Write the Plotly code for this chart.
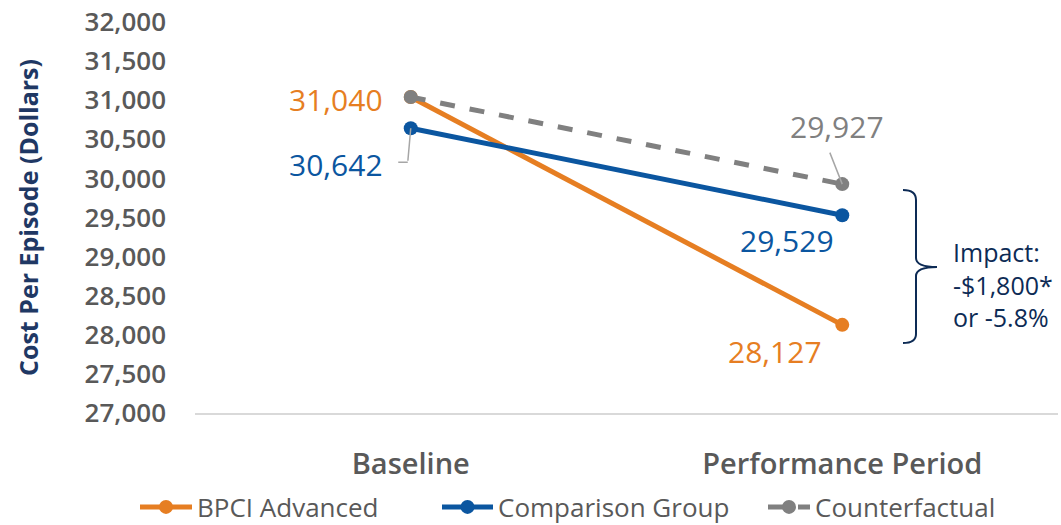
import plotly.graph_objects as go

# Episode cost data
periods = ["Baseline", "Performance Period"]
bpci_advanced = [31040, 28127]
comparison_group = [30642, 29529]
counterfactual = [31040, 29927]
y_ticks = list(range(27000, 32001, 500))

ORANGE = "#E67E22"
BLUE = "#0B56A0"
GRAY = "#808080"
NAVY = "#0D2B55"
TEXT = "#595959"
FONT = "Open Sans"

L, R, T, B = 195, 3, 22, 112
W, H = 1061, 525
PW = W - L - R


def px(xp):
    return (xp - L) / PW


fig = go.Figure()
fig.add_trace(go.Scatter(x=periods, y=bpci_advanced, name="BPCI Advanced",
                         mode="lines+markers", legend="legend",
                         line=dict(color=ORANGE, width=5),
                         marker=dict(size=14, color=ORANGE)))
fig.add_trace(go.Scatter(x=periods, y=comparison_group, name="Comparison Group",
                         mode="lines+markers", legend="legend2",
                         line=dict(color=BLUE, width=5),
                         marker=dict(size=14, color=BLUE)))
fig.add_trace(go.Scatter(x=periods, y=counterfactual, name="Counterfactual",
                         mode="lines+markers", legend="legend3",
                         line=dict(color=GRAY, width=5, dash="dash"),
                         marker=dict(size=14, color=GRAY)))

# Value labels
lab_font = dict(family=FONT, size=30)
fig.add_annotation(x=periods[0], y=bpci_advanced[0], text=f"{bpci_advanced[0]:,}",
                   showarrow=False, xshift=-75, yshift=-2,
                   font=dict(lab_font, color=ORANGE))
fig.add_annotation(x=periods[0], y=comparison_group[0], text=f"{comparison_group[0]:,}",
                   showarrow=False, xshift=-75, yshift=-36,
                   font=dict(lab_font, color=BLUE))
fig.add_annotation(x=periods[1], y=counterfactual[1], text=f"{counterfactual[1]:,}",
                   showarrow=False, xshift=-5, yshift=58,
                   font=dict(lab_font, color=GRAY))
fig.add_annotation(x=periods[1], y=comparison_group[1], text=f"{comparison_group[1]:,}",
                   showarrow=False, xshift=-55, yshift=-25,
                   font=dict(lab_font, color=BLUE))
fig.add_annotation(x=periods[1], y=bpci_advanced[1], text=f"{bpci_advanced[1]:,}",
                   showarrow=False, xshift=-67, yshift=-27,
                   font=dict(lab_font, color=ORANGE))

# Leader lines for the labels set away from their points
fig.add_annotation(x=periods[0], y=comparison_group[0], ax=-3, ay=34,
                   showarrow=True, arrowhead=0, arrowwidth=1.5, arrowcolor="#A6A6A6",
                   text="", standoff=0)
fig.add_annotation(x=periods[0], y=comparison_group[0], xshift=-3, yshift=-34,
                   ax=-11, ay=0, showarrow=True, arrowhead=0, arrowwidth=1.5,
                   arrowcolor="#A6A6A6", text="")
fig.add_annotation(x=periods[1], y=counterfactual[1], ax=-13, ay=-33,
                   showarrow=True, arrowhead=0, arrowwidth=1.5, arrowcolor="#A6A6A6",
                   text="", standoff=0)

# Impact brace
def dy(yp):
    return 32000 - (yp - T) / (H - T - B) * 5000

brace = (f"M {px(903)},{dy(190)} Q {px(916)},{dy(190)} {px(916)},{dy(200)} "
         f"L {px(916)},{dy(258)} Q {px(916)},{dy(267)} {px(937)},{dy(267)} "
         f"Q {px(916)},{dy(267)} {px(916)},{dy(276)} "
         f"L {px(916)},{dy(334)} Q {px(916)},{dy(343)} {px(903)},{dy(343)}")
fig.add_shape(type="path", path=brace, xref="paper", yref="y",
              line=dict(color=NAVY, width=2))
fig.add_annotation(xref="paper", yref="y", x=px(951), y=dy(284),
                   text="Impact:<br>-$1,800*<br>or -5.8%", showarrow=False,
                   xanchor="left", yanchor="middle", align="left",
                   font=dict(family=FONT, size=25, color=NAVY))

leg_font = dict(family=FONT, size=26, color=TEXT)


def legend_box(xpix, itemwidth):
    return dict(orientation="h", xanchor="left", x=px(xpix),
                yref="container", y=1 - 507 / H, yanchor="middle",
                font=leg_font, itemwidth=itemwidth, borderwidth=0,
                bgcolor="rgba(0,0,0,0)")


fig.update_layout(
    width=W, height=H,
    margin=dict(l=L, r=R, t=T, b=B, autoexpand=False),
    plot_bgcolor="white", paper_bgcolor="white",
    font=dict(family=FONT, color=TEXT),
    showlegend=True,
    legend=legend_box(135, 52),
    legend2=legend_box(437, 51),
    legend3=legend_box(763, 42),
)
fig.update_xaxes(type="category", range=[-0.5, 1.5], showgrid=False,
                 showline=True, linecolor="#D9D9D9", linewidth=1.5,
                 tickfont=dict(family=FONT, size=29, color=TEXT, weight=600),
                 ticks="", ticklabelstandoff=24, automargin=False)
fig.update_yaxes(range=[27000, 32000], tickvals=y_ticks,
                 ticktext=[f"{v:,}" for v in y_ticks],
                 showgrid=False, zeroline=False, showline=False,
                 tickfont=dict(family=FONT, size=26, color=TEXT, weight=600),
                 ticklabelstandoff=28, automargin=False,
                 title=dict(text="Cost Per Episode (Dollars)", standoff=38,
                            font=dict(family=FONT, size=25, color="#1F3864", weight=700)))

fig.write_html("out.html")
